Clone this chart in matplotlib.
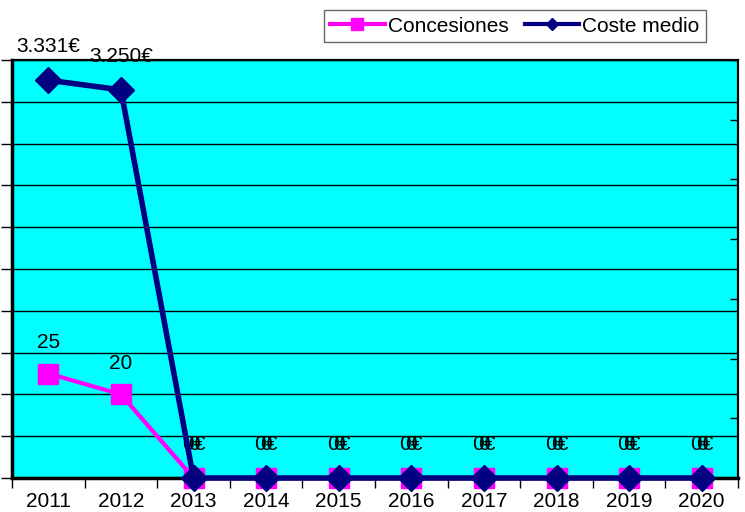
import numpy as np
import matplotlib.pyplot as plt
from matplotlib.lines import Line2D

plt.rcParams['font.family'] = ['Liberation Sans', 'DejaVu Sans']

years = ['2011', '2012', '2013', '2014', '2015', '2016', '2017', '2018', '2019', '2020']
concesiones = [25, 20, 0, 0, 0, 0, 0, 0, 0, 0]
coste_medio = [3331, 3250, 0, 0, 0, 0, 0, 0, 0, 0]
coste_labels = ['3.331€', '3.250€', '0€', '0€', '0€', '0€', '0€', '0€', '0€', '0€']

x = np.arange(len(years))
fs = 15

fig = plt.figure(figsize=(7.45, 5.12), dpi=100)
ax = fig.add_axes([12/745, 1 - 478/512, 726/745, 418/512])
ax.set_facecolor('#00FFFF')
ax2 = ax.twinx()

# left axis: concesiones
ax.plot(x, concesiones, color='#FF00FF', lw=3, marker='s', ms=14,
        mec='#FF00FF', mfc='#FF00FF', clip_on=False, zorder=3)
for xi, v in zip(x, concesiones):
    off = 22 if v else 24
    ax.annotate(str(v), (xi, v), xytext=(0, off), textcoords='offset points',
                ha='center', va='center', fontsize=fs)
ax.set_ylim(0, 100)
ax.set_yticks(np.arange(0, 101, 10))
ax.set_yticklabels([])
ax.grid(axis='y', color='black', lw=1)
ax.set_axisbelow(True)
ax.tick_params(axis='y', direction='out', length=8, width=1)

# right axis: coste medio
ax2.plot(x, coste_medio, color='#000080', lw=4, marker='D', ms=13,
         mec='#000080', mfc='#000080', clip_on=False, zorder=4)
for xi, v, lab in zip(x, coste_medio, coste_labels):
    ax2.annotate(lab, (xi, v), xytext=(0, 24), textcoords='offset points',
                 ha='center', va='center', fontsize=fs, annotation_clip=False)
ax2.set_ylim(0, 3500)
ax2.set_yticks(np.arange(0, 3501, 500))
ax2.set_yticklabels([])
ax2.tick_params(axis='y', direction='in', length=6, width=1)

ax.set_xlim(-0.5, len(years) - 0.5)
ax.set_xticks(x)
ax.set_xticklabels(years, fontsize=fs)
ax.set_xticks(np.arange(-0.5, len(years) - 0.4, 1), minor=True)
ax.tick_params(axis='x', which='major', length=0, pad=10)
ax.tick_params(axis='x', which='minor', direction='out', length=7, width=1)

for a in (ax, ax2):
    for s in a.spines.values():
        s.set_color('black')
        s.set_linewidth(1.5)
ax2.spines['bottom'].set_linewidth(2.5)
ax2.spines['left'].set_linewidth(2.5)

handles = [Line2D([], [], color='#FF00FF', lw=3, marker='s', ms=8),
           Line2D([], [], color='#000080', lw=3, marker='D', ms=6)]
leg = fig.legend(handles, ['Concesiones', 'Coste medio'], loc='center',
                 bbox_to_anchor=(515/745, 1 - 26/512), ncol=2, fontsize=fs,
                 frameon=True, fancybox=False, edgecolor='#404040',
                 handlelength=2.6, handletextpad=0.15, columnspacing=0.8,
                 borderpad=0.3, borderaxespad=0)
leg.get_frame().set_linewidth(1)

fig.savefig('out.png', dpi=100)
